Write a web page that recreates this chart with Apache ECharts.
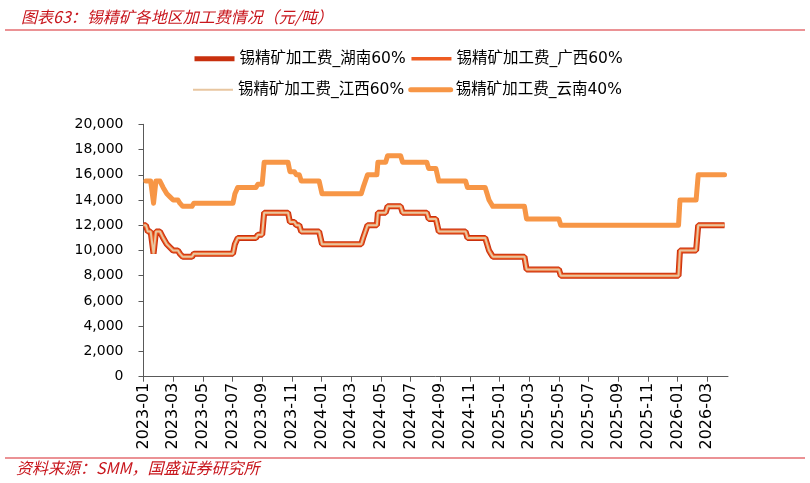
<!DOCTYPE html>
<html>
<head>
<meta charset="utf-8">
<script src="https://cdn.jsdelivr.net/npm/echarts@6/dist/echarts.min.js"></script>
<style>
html,body{margin:0;padding:0;background:#fff;}
#chart{width:810px;height:483px;}
</style>
</head>
<body>
<div id="chart"></div>
<script>
// 锡精矿加工费 各地区（元/吨）
var dates60 = ['2023-01-01','2023-01-06','2023-01-10','2023-01-16','2023-01-22','2023-01-27','2023-02-04','2023-02-10','2023-02-17','2023-02-23',
	'2023-03-01','2023-03-11','2023-03-15','2023-03-21','2023-04-09','2023-04-13','2023-07-02','2023-07-06','2023-07-12','2023-08-19',
	'2023-08-23','2023-09-01','2023-09-05','2023-10-24','2023-10-28','2023-11-06','2023-11-10','2023-11-16','2023-11-20','2023-12-27',
	'2024-01-02','2024-03-22','2024-03-26','2024-03-30','2024-04-04','2024-04-23','2024-04-25','2024-05-11','2024-05-15','2024-06-11',
	'2024-06-15','2024-08-04','2024-08-08','2024-08-23','2024-08-29','2024-10-23','2024-10-27','2024-12-02','2024-12-06','2024-12-10',
	'2024-12-14','2024-12-18','2025-02-20','2025-02-24','2025-05-01','2025-05-05','2026-01-03','2026-01-06','2026-02-08','2026-02-12',
	'2026-04-06'];
var hunan = [12000,12000,11500,11500,9750,11500,11500,11000,10500,10250,
	10000,10000,9750,9500,9500,9750,9750,10500,11000,11000,
	11250,11250,13000,13000,12250,12250,12000,12000,11500,11500,
	10500,10500,11000,11000,12000,12000,13000,13000,13500,13500,
	13000,13000,12500,12500,11500,11500,11000,11000,10500,10000,
	9750,9500,9500,8500,8500,8000,8000,10000,10000,12000,
	12000];
var guangxi = [12000,12000,11500,11500,9750,11500,11500,11000,10500,10250,
	10000,10000,9750,9500,9500,9750,9750,10500,11000,11000,
	11250,11250,13000,13000,12250,12250,12000,12000,11500,11500,
	10500,10500,11000,11000,12000,12000,13000,13000,13500,13500,
	13000,13000,12500,12500,11500,11500,11000,11000,10500,10000,
	9750,9500,9500,8500,8500,8000,8000,10000,10000,12000,
	12000];
var jiangxi = [12000,12000,11500,11500,9750,11500,11500,11000,10500,10250,
	10000,10000,9750,9500,9500,9750,9750,10500,11000,11000,
	11250,11250,13000,13000,12250,12250,12000,12000,11500,11500,
	10500,10500,11000,11000,12000,12000,13000,13000,13500,13500,
	13000,13000,12500,12500,11500,11500,11000,11000,10500,10000,
	9750,9500,9500,8500,8500,8000,8000,10000,10000,12000,
	12000];
var dates40 = ['2023-01-06','2023-01-16','2023-01-22','2023-01-27','2023-02-04','2023-02-10','2023-02-17','2023-02-23',
	'2023-03-01','2023-03-11','2023-03-15','2023-03-21','2023-04-09','2023-04-13','2023-07-02','2023-07-06','2023-07-12','2023-08-19',
	'2023-08-23','2023-09-01','2023-09-05','2023-10-24','2023-10-28','2023-11-06','2023-11-10','2023-11-16','2023-11-20','2023-12-27',
	'2024-01-02','2024-03-22','2024-03-26','2024-03-30','2024-04-04','2024-04-23','2024-04-25','2024-05-11','2024-05-15','2024-06-11',
	'2024-06-15','2024-08-04','2024-08-08','2024-08-23','2024-08-29','2024-10-23','2024-10-27','2024-12-02','2024-12-06','2024-12-10',
	'2024-12-14','2024-12-18','2025-02-20','2025-02-24','2025-05-01','2025-05-05','2026-01-03','2026-01-06','2026-02-08','2026-02-12',
	'2026-04-06'];
var yunnan = [15500,15500,13750,15500,15500,15000,14500,14250,
	14000,14000,13750,13500,13500,13750,13750,14500,15000,15000,
	15250,15250,17000,17000,16250,16250,16000,16000,15500,15500,
	14500,14500,15000,15000,16000,16000,17000,17000,17500,17500,
	17000,17000,16500,16500,15500,15500,15000,15000,14500,14000,
	13750,13500,13500,12500,12500,12000,12000,14000,14000,16000,
	16000];
var xLabels = ['2023-01','2023-03','2023-05','2023-07','2023-09','2023-11','2024-01','2024-03','2024-05','2024-07',
	'2024-09','2024-11','2025-01','2025-03','2025-05','2025-07','2025-09','2025-11','2026-01','2026-03'];
var names = ['锡精矿加工费_湖南60%','锡精矿加工费_广西60%','锡精矿加工费_江西60%','锡精矿加工费_云南40%'];

//日期换算成月份位置
function monthPos(s){
	var p = s.split('-');
	var y = +p[0], m = +p[1], d = +p[2] || 1;
	var days = new Date(y, m, 0).getDate();
	return (y-2023)*12 + (m-1) + (d-1)/days;
}
function pairs(dates, vals){
	return dates.map(function(d, i){ return [monthPos(d), vals[i]]; });
}
var tickPos = xLabels.map(function(s){ return monthPos(s); });

var FONT = "'DejaVu Sans','Noto Sans CJK SC'";
var legendText = {fontFamily: FONT, fontSize: 15.5, color: '#000'};
var chart = echarts.init(document.getElementById('chart'));
chart.setOption({
	animation: false,
	title: {
		text: '图表63：锡精矿各地区加工费情况（元/吨）',
		left: 16, top: 4,
		textStyle: {fontFamily: "'Noto Sans CJK SC'", fontSize: 16, fontStyle: 'italic', fontWeight: 'normal', color: '#C8161D'}
	},
	legend: [
		{data: [{name: names[0], lineStyle: {width: 5}}, {name: names[1], lineStyle: {width: 3.5}}],
			left: 187, top: 46, itemWidth: 40, itemHeight: 14, itemGap: 4,
			itemStyle: {opacity: 0}, textStyle: legendText},
		{data: [{name: names[2], lineStyle: {width: 2}}, {name: names[3], lineStyle: {width: 5}}],
			left: 187, top: 77, itemWidth: 40, itemHeight: 14, itemGap: 4,
			itemStyle: {opacity: 0}, textStyle: legendText}
	],
	grid: {left: 143.5, right: 82, top: 124.3, bottom: 106.3},
	xAxis: {
		type: 'value', min: 0, max: 39.4,
		axisLine: {lineStyle: {color: '#595959', width: 1}},
		axisTick: {show: true, length: 5, customValues: tickPos, lineStyle: {color: '#595959'}},
		axisLabel: {
			customValues: tickPos, rotate: 90, margin: 6,
			fontFamily: FONT, fontSize: 16, color: '#000',
			formatter: function(v){
				var i = tickPos.indexOf(v);
				return i >= 0 ? xLabels[i] : '';
			}
		},
		splitLine: {show: false}
	},
	yAxis: {
		type: 'value', min: 0, max: 20000, interval: 2000,
		axisLine: {show: true, lineStyle: {color: '#595959', width: 1}},
		axisTick: {show: true, length: 5, lineStyle: {color: '#595959'}},
		axisLabel: {
			margin: 20, fontFamily: FONT, fontSize: 14, color: '#000',
			formatter: function(v){ return String(v).replace(/\B(?=(\d{3})+(?!\d))/g, ','); }
		},
		splitLine: {show: false}
	},
	graphic: [
		{type: 'line', shape: {x1: 5, y1: 30, x2: 805, y2: 30}, style: {stroke: '#D7262C', lineWidth: 1.2}},
		{type: 'line', shape: {x1: 5, y1: 458, x2: 805, y2: 458}, style: {stroke: '#D7262C', lineWidth: 1.2}},
		{type: 'text', left: 16, top: 460, style: {text: '资料来源：SMM，国盛证券研究所', fontFamily: "'Noto Sans CJK SC'",
			fontSize: 16, fontStyle: 'italic', fill: '#C8161D'}}
	],
	series: [
		{name: names[0], type: 'line', symbol: 'none', data: pairs(dates60, hunan),
			lineStyle: {color: '#C8300E', width: 6}, itemStyle: {color: '#C8300E'}},
		{name: names[1], type: 'line', symbol: 'none', data: pairs(dates60, guangxi),
			lineStyle: {color: '#EE5C22', width: 4}, itemStyle: {color: '#EE5C22'}},
		{name: names[2], type: 'line', symbol: 'none', data: pairs(dates60, jiangxi),
			lineStyle: {color: '#E8C6A0', width: 2}, itemStyle: {color: '#E8C6A0'}},
		{name: names[3], type: 'line', symbol: 'none', data: pairs(dates40, yunnan),
			lineStyle: {color: '#F79646', width: 5, cap: 'round', join: 'round'}, itemStyle: {color: '#F79646'}}
	]
});
</script>
</body>
</html>
